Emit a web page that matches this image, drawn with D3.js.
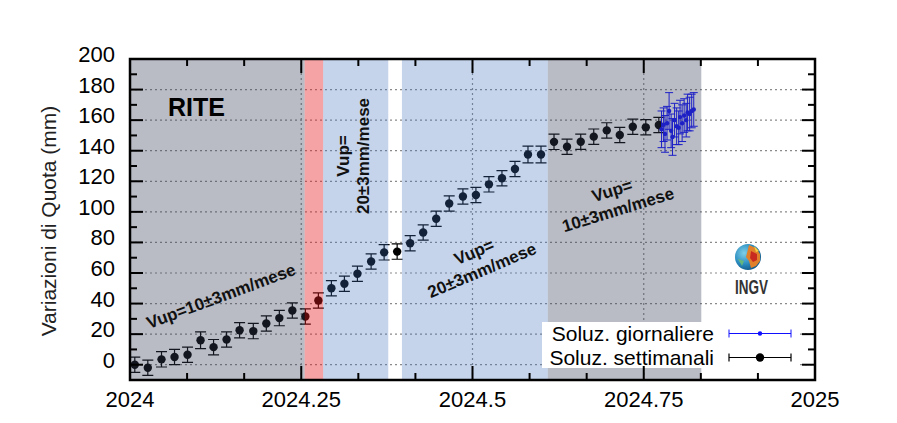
<!DOCTYPE html>
<html><head><meta charset="utf-8">
<script src="https://cdn.jsdelivr.net/npm/d3@7"></script>
<style>body{margin:0;background:#fff} svg{display:block}</style>
</head><body><svg id="c" width="897" height="423"></svg>
<script>
// ---------- DATA ----------
const xTickValues = [2024, 2024.25, 2024.5, 2024.75, 2025];
const xTickLabels = ["2024", "2024.25", "2024.5", "2024.75", "2025"];
const xMinorTicks = [2024+1/12, 2024+2/12, 2024+4/12, 2024+5/12, 2024+7/12, 2024+8/12, 2024+10/12, 2024+11/12];
const yTickValues = [0, 20, 40, 60, 80, 100, 120, 140, 160, 180, 200];
const yTickLabels = ["0", "20", "40", "60", "80", "100", "120", "140", "160", "180", "200"];
const yMinorTicks = [10, 30, 50, 70, 90, 110, 130, 150, 170, 190];

// shaded periods
const regionStart = [2024.000, 2024.255, 2024.282, 2024.397, 2024.610];
const regionEnd   = [2024.255, 2024.282, 2024.377, 2024.610, 2024.834];
const regionKind  = ["stabile", "crisi", "sollevamento", "sollevamento", "stabile"];

// weekly solutions (Soluz. settimanali)
const weekT = [2024.007, 2024.026, 2024.046, 2024.065, 2024.084, 2024.103, 2024.122, 2024.141, 2024.160, 2024.180,
               2024.199, 2024.218, 2024.237, 2024.256, 2024.275, 2024.294, 2024.313, 2024.332, 2024.352, 2024.371,
               2024.390, 2024.409, 2024.428, 2024.447, 2024.466, 2024.486, 2024.505, 2024.524, 2024.543, 2024.562,
               2024.581, 2024.600, 2024.619, 2024.638, 2024.658, 2024.677, 2024.696, 2024.715, 2024.734, 2024.753,
               2024.772];
const weekV = [0, -2, 3.5, 5, 6.5, 16, 11.5, 16.5, 22.5, 22,
               27, 30.5, 35.5, 31.5, 42, 50, 53, 59.5, 67.5, 73.5,
               74, 79.5, 86.5, 95.5, 105.5, 110, 111, 118, 122, 128,
               137.5, 137.5, 145.8, 142.6, 145.9, 149.2, 153.3, 150.3, 155.7, 155.3,
               156.8];
const weekE = [5, 5, 5, 5, 5, 5.5, 5, 5, 5, 5,
               5, 5, 5, 5, 5, 5, 5, 5, 5, 5,
               5, 5, 5, 5, 5, 5, 5, 5, 5, 5,
               5.5, 5.5, 5, 5, 5, 5, 5, 5, 5, 5,
               5];

// daily solutions (Soluz. giornaliere)
const dayT = [2024.776, 2024.779, 2024.781, 2024.784, 2024.787, 2024.790, 2024.792, 2024.795, 2024.798,
              2024.801, 2024.803, 2024.806, 2024.809, 2024.812, 2024.814, 2024.817, 2024.820, 2024.823];
const dayV = [154, 157, 151, 158, 166, 153, 149, 160, 156, 155, 162, 158, 163, 160, 165, 164, 166, 167];
const dayE = [12, 11, 12, 11, 12, 11, 12, 11, 12, 11, 11, 12, 11, 11, 12, 11, 11, 11];

const legendLabels = ["Soluz. giornaliere", "Soluz. settimanali"];

// ---------- CHART ----------
const svg = d3.select("#c");
const x = d3.scaleLinear().domain([2024, 2025]).range([130, 815]);
const y = d3.scaleLinear().domain([-10, 200]).range([380, 59]);
const font = "'Liberation Sans', Arial, sans-serif";

const regionFill = d3.scaleOrdinal()
  .domain(["stabile", "crisi", "sollevamento"])
  .range(["rgb(55,64,89)", "rgb(232,25,30)", "rgb(62,112,188)"]);
const regionAlpha = d3.scaleOrdinal()
  .domain(["stabile", "crisi", "sollevamento"])
  .range([0.35, 0.4, 0.3]);

// gridlines
const grid = svg.append("g").attr("stroke", "#8a8a8a").attr("stroke-width", 1.2).attr("stroke-dasharray", "2,3");
grid.selectAll("line.h").data(yTickValues.filter(v => v < 200)).join("line")
  .attr("x1", x(2024)).attr("x2", x(2025)).attr("y1", d => y(d)).attr("y2", d => y(d));
grid.selectAll("line.v").data(xTickValues.slice(1, -1)).join("line")
  .attr("y1", y(-10)).attr("y2", y(200)).attr("x1", d => x(d)).attr("x2", d => x(d));

// weekly points
const wk = svg.append("g");
const wData = weekT.map((t, i) => ({t, v: weekV[i], e: weekE[i]}));
wk.selectAll("path.err").data(wData).join("path")
  .attr("fill", "none").attr("stroke", "#000").attr("stroke-width", 1.2)
  .attr("d", d => {
    const cx = x(d.t), y1 = y(d.v + d.e), y2 = y(d.v - d.e);
    return `M${cx},${y1}V${y2}M${cx-5.5},${y1}H${cx+5.5}M${cx-5.5},${y2}H${cx+5.5}`;
  });
wk.selectAll("circle").data(wData).join("circle")
  .attr("cx", d => x(d.t)).attr("cy", d => y(d.v)).attr("r", 4.2).attr("fill", "#000");

// daily points
const dy = svg.append("g");
const dData = dayT.map((t, i) => ({t, v: dayV[i], e: dayE[i]}));
dy.selectAll("path").data(dData).join("path")
  .attr("fill", "none").attr("stroke", "#1010ff").attr("stroke-width", 1)
  .attr("d", d => {
    const cx = x(d.t), y1 = y(d.v + d.e), y2 = y(d.v - d.e);
    return `M${cx},${y1}V${y2}M${cx-4},${y1}H${cx+4}M${cx-4},${y2}H${cx+4}`;
  });
dy.selectAll("circle").data(dData).join("circle")
  .attr("cx", d => x(d.t)).attr("cy", d => y(d.v)).attr("r", 2.2).attr("fill", "#1010ff");

// shaded periods (drawn translucent over the data)
svg.append("g").selectAll("rect").data(regionStart.map((s, i) => ({s, e: regionEnd[i], k: regionKind[i]}))).join("rect")
  .attr("x", d => x(d.s)).attr("width", d => x(d.e) - x(d.s))
  .attr("y", y(200)).attr("height", y(-10) - y(200))
  .attr("fill", d => regionFill(d.k)).attr("fill-opacity", d => regionAlpha(d.k));

// legend
const lg = svg.append("g");
lg.append("rect").attr("x", 542).attr("y", 322).attr("width", 258).attr("height", 46).attr("fill", "#fff");
const legY = [333.5, 357.5];
lg.selectAll("text").data(legendLabels).join("text")
  .attr("x", 714).attr("y", (d, i) => legY[i] + 7.5).attr("text-anchor", "end")
  .attr("font-family", font).attr("font-size", 21).attr("fill", "#000").text(d => d);
[0, 1].forEach(i => {
  const col = i === 0 ? "#1010ff" : "#000";
  lg.append("path").attr("fill", "none").attr("stroke", col).attr("stroke-width", i === 0 ? 1 : 1.2)
    .attr("d", `M729,${legY[i]}H791M729,${legY[i]-4}V${legY[i]+4}M791,${legY[i]-4}V${legY[i]+4}`);
  lg.append("circle").attr("cx", 760).attr("cy", legY[i]).attr("r", i === 0 ? 2.2 : 4.2).attr("fill", col);
});

// axes ticks
const ax = svg.append("g").attr("stroke", "#000").attr("stroke-width", 2);
const xMaj = xTickValues.slice(1, -1);
ax.selectAll("line.xb").data(xMaj).join("line").attr("x1", d => x(d)).attr("x2", d => x(d)).attr("y1", y(-10)).attr("y2", y(-10) - 14);
ax.selectAll("line.xt").data(xMaj).join("line").attr("x1", d => x(d)).attr("x2", d => x(d)).attr("y1", y(200)).attr("y2", y(200) + 14);
ax.selectAll("line.xbm").data(xMinorTicks).join("line").attr("x1", d => x(d)).attr("x2", d => x(d)).attr("y1", y(-10)).attr("y2", y(-10) - 7);
ax.selectAll("line.xtm").data(xMinorTicks).join("line").attr("x1", d => x(d)).attr("x2", d => x(d)).attr("y1", y(200)).attr("y2", y(200) + 7);
const yMaj = yTickValues.filter(v => v < 200);
ax.selectAll("line.yl").data(yMaj).join("line").attr("y1", d => y(d)).attr("y2", d => y(d)).attr("x1", x(2024)).attr("x2", x(2024) + 13);
ax.selectAll("line.yr").data(yMaj).join("line").attr("y1", d => y(d)).attr("y2", d => y(d)).attr("x1", x(2025)).attr("x2", x(2025) - 13);
ax.selectAll("line.ylm").data(yMinorTicks).join("line").attr("y1", d => y(d)).attr("y2", d => y(d)).attr("x1", x(2024)).attr("x2", x(2024) + 7);
ax.selectAll("line.yrm").data(yMinorTicks).join("line").attr("y1", d => y(d)).attr("y2", d => y(d)).attr("x1", x(2025)).attr("x2", x(2025) - 7);

// frame
svg.append("rect").attr("x", x(2024)).attr("y", y(200)).attr("width", x(2025) - x(2024)).attr("height", y(-10) - y(200))
  .attr("fill", "none").attr("stroke", "#000").attr("stroke-width", 2.5);

// tick labels
svg.append("g").selectAll("text").data(yTickValues).join("text")
  .attr("x", 115).attr("y", d => y(d) + 3).attr("text-anchor", "end")
  .attr("font-family", font).attr("font-size", 22).attr("fill", "#000")
  .text((d, i) => yTickLabels[i]);
svg.append("g").selectAll("text").data(xTickValues).join("text")
  .attr("x", d => x(d)).attr("y", 407).attr("text-anchor", "middle")
  .attr("font-family", font).attr("font-size", 22).attr("fill", "#000")
  .text((d, i) => xTickLabels[i]);

// y axis title
svg.append("text").attr("transform", "translate(56,221) rotate(-90)").attr("text-anchor", "middle")
  .attr("font-family", font).attr("font-size", 21).attr("fill", "#222").text("Variazioni di Quota (mm)");

// station name
svg.append("text").attr("x", 168).attr("y", 116).attr("font-family", font).attr("font-weight", "bold")
  .attr("font-size", 25).attr("fill", "#000").text("RITE");

// rate annotations
const notes = [
  {tx: 221, ty: 296, rot: -20.4, lines: ["Vup=10±3mm/mese"]},
  {tx: 353, ty: 156, rot: -90, lines: ["Vup=", "20±3mm/mese"]},
  {tx: 478, ty: 261, rot: -23, lines: ["Vup=", "20±3mm/mese"]},
  {tx: 615, ty: 200, rot: -17, lines: ["Vup=", "10±3mm/mese"]}
];
notes.forEach(n => {
  const g = svg.append("g").attr("transform", `translate(${n.tx},${n.ty}) rotate(${n.rot})`);
  const off = (n.lines.length - 1) * 10;
  n.lines.forEach((l, i) => {
    g.append("text").attr("x", 0).attr("y", -off + i * 20).attr("dy", "0.35em").attr("text-anchor", "middle")
      .attr("font-family", font).attr("font-weight", "bold").attr("font-size", 17).attr("fill", "#111").text(l);
  });
});

// INGV logo
const defs = svg.append("defs");
const rg = defs.append("radialGradient").attr("id", "globe").attr("cx", "35%").attr("cy", "35%").attr("r", "70%");
rg.append("stop").attr("offset", "0%").attr("stop-color", "#7fd0e8");
rg.append("stop").attr("offset", "60%").attr("stop-color", "#2a8cc0");
rg.append("stop").attr("offset", "100%").attr("stop-color", "#135a88");
const logo = svg.append("g").attr("transform", "translate(748,257)");
logo.append("circle").attr("r", 13).attr("fill", "url(#globe)");
logo.append("path").attr("d", "M1,-12 L8,-9 L12,-3 L12,4 L8,9 L3,11 L1,4 L-2,0 Z").attr("fill", "#e0802a");
logo.append("path").attr("d", "M3,-6 L9,-3 L9,3 L5,5 L2,1 Z").attr("fill", "#c82a20");
logo.append("path").attr("d", "M6,-11 L11,-6 L8,-5 Z").attr("fill", "#f2d040");
logo.append("path").attr("d", "M-10,2 L-4,4 L-6,9 Z").attr("fill", "#6fbf6a").attr("opacity", 0.8);
svg.append("text").attr("x", 751.5).attr("y", 294).attr("text-anchor", "middle")
  .attr("font-family", font).attr("font-weight", "bold").attr("font-size", 20)
  .attr("textLength", 33).attr("lengthAdjust", "spacingAndGlyphs").attr("fill", "#333").text("INGV");
</script></body></html>
